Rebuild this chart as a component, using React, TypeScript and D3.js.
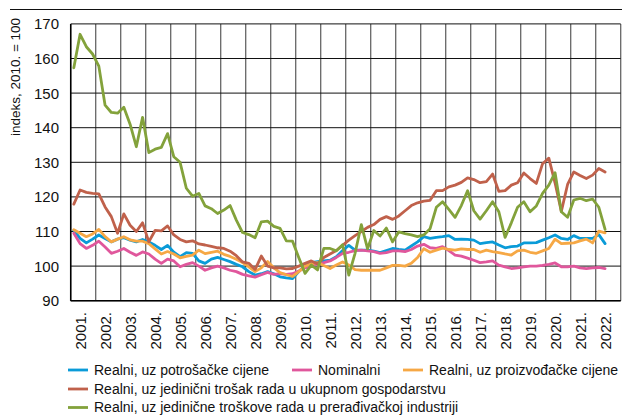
import React, { useRef, useEffect } from "react";
import * as d3 from "d3";

// tick labels
const years = [
  "2001.", "2002.", "2003.", "2004.", "2005.", "2006.", "2007.", "2008.", "2009.", "2010.", "2011.",
  "2012.", "2013.", "2014.", "2015.", "2016.", "2017.", "2018.", "2019.", "2020.", "2021.", "2022.",
];
const yTicks = [90, 100, 110, 120, 130, 140, 150, 160, 170];

// quarterly values, 2001 Q1 - 2022 Q2
const potrosacke = [
  110.3, 108, 106.7, 107.8, 109, 108, 107, 107.8, 108.2, 107.5, 107, 107.7, 107, 106, 104.8, 106,
  104, 102.7, 103.9, 103.7, 101.5, 100.8, 102, 102.5, 101.9, 101.3, 100.5, 99.8, 98.4, 97.4, 97.8, 98.4,
  97.8, 96.9, 96.6, 96.4, 98.4, 100.3, 101, 101.3, 101.5, 101.7, 102.7, 104.5, 106, 104.6, 104.6, 104.6,
  104.3, 103.9, 104.5, 105.1, 104.8, 104.6, 105.8, 107, 108.5, 108, 108.3, 108.5, 108.8, 107.7, 107.8, 107.7,
  107.5, 106.5, 106.8, 107, 106.1, 105.3, 105.6, 105.8, 106.7, 106.7, 106.8, 107.5, 108.2, 109, 108, 107.7,
  108.8, 108, 108, 108, 109.1, 106.5,
];
const nominalni = [
  109.5, 106.5, 105.1, 106, 107.2, 105.5, 103.7, 104.3, 105.1, 104, 103.1, 104.1, 103.5, 102, 100.8, 102,
  101.5, 99.8, 100.5, 101, 100, 98.8, 99.5, 100, 99.5, 98.8, 98.4, 97.6, 97.2, 96.8, 97.5, 98.2,
  97.6, 97.8, 97.6, 97.8, 98.6, 99.5, 100, 100.8, 101, 101.5, 102.5, 103.7, 104, 104.5, 104.6, 104.4,
  104.2, 103.7, 103.9, 104.4, 104.4, 104.2, 104.8, 105.8, 106.3, 105.3, 105.1, 105.6, 104.5, 103.2, 102.9, 102.3,
  101.7, 101, 101.2, 101.5, 100.3, 99.8, 99.3, 99.5, 99.8, 100, 100, 100.2, 100.5, 100.9, 99.8, 99.8,
  100, 99.5, 99.3, 99.5, 99.6, 99.3,
];
const proizvodacke = [
  110.5, 109.5, 108.5, 109.3, 110.6, 108.5, 107, 107.8, 108.5, 107.6, 107.2, 107.2, 106.5, 105, 103.5, 104.2,
  103.5, 102.4, 102.8, 103.2, 104.6, 103.6, 104, 104.3, 103.4, 102.8, 102, 101, 99.8, 98.4, 99.5, 101.3,
  99.5, 98.1, 97.5, 97, 98.4, 100, 100.7, 101, 100.2, 99.3, 100.3, 101.2, 100.3, 99, 98.8, 98.8,
  98.8, 98.8, 99.5, 100.2, 100.2, 100, 100.8, 102.5, 105, 104, 104.6, 105.2, 104.8, 104.6, 105, 104.8,
  104.8, 104, 104.6, 104.2, 103.9, 103.5, 103.2, 104.4, 104.6, 104, 103.7, 104.4, 105.1, 107.8, 106.5, 106.6,
  106.7, 107.3, 107.8, 106.7, 110.1, 109.6,
];
const ulcUkupno = [
  117.9, 122, 121.3, 121, 120.9, 117.1, 114.3, 109.5, 115.1, 111.8, 110, 112.5, 107, 110.3, 110.2, 111.6,
  109, 107.7, 107, 107.3, 106.4, 106.1, 105.7, 105.3, 105.1, 104.3, 103, 101.2, 100.8, 99, 102.9, 100,
  99.5, 99.5, 99.2, 99.3, 100, 100.8, 101.5, 100.6, 102.5, 103.5, 104.5, 106, 107.5, 108.8, 110, 111.2,
  112, 113.5, 114.3, 113.5, 114.5, 116, 117.5, 118.3, 118.8, 119, 121.8, 121.8, 122.9, 123.4, 124.2, 125.5,
  125, 124.1, 124.4, 126.6, 121.6, 121.8, 123.4, 124.1, 126.9, 125.3, 123.9, 129.6, 131.2, 124, 115.8, 123.6,
  127.2, 126.2, 125.3, 126.3, 128.2, 127.2,
];
const ulcPreradivacka = [
  157.3, 167, 163.4, 161.3, 157.8, 146.5, 144.4, 144.2, 145.9, 141, 134.5, 143, 132.8, 133.8, 134.3, 138.3,
  131.6, 130, 122.5, 120.2, 121, 117.4, 116.6, 115.2, 116.2, 117.5, 113.3, 109.7, 109.1, 108.2, 112.8, 113,
  111.5, 110.9, 107.3, 107.2, 102.4, 97.9, 100.3, 98.9, 105.1, 105.1, 104.4, 106.2, 97.4, 103.7, 112, 105,
  110.3, 108.7, 111, 107, 109.9, 109.4, 109, 108.5, 109, 110.8, 117, 118.6, 116.4, 114.1, 117.5, 121.8,
  116, 113.6, 116, 118.6, 115.7, 108.3, 112.5, 117, 118.6, 115.7, 117.4, 121, 123.4, 127, 115.7, 114.1,
  119.1, 119.6, 118.9, 119.4, 117, 110.6,
];

const seriesNames = [
  "Realni, uz potrošačke cijene",
  "Nominalni",
  "Realni, uz proizvođačke cijene",
  "Realni, uz jedinični trošak rada u ukupnom gospodarstvu",
  "Realni, uz jedinične troškove rada u prerađivačkoj industriji",
];
const seriesData = [potrosacke, nominalni, proizvodacke, ulcUkupno, ulcPreradivacka];
const colors = ["#0a9bd8", "#e0579c", "#f6a845", "#c0614b", "#83a23b"];

const W = 622;
const H = 416;
const font = "'Liberation Sans', Arial, sans-serif";

const App: React.FC = () => {
  const svgRef = useRef<SVGSVGElement | null>(null);

  useEffect(() => {
    if (!svgRef.current) return;
    const svg = d3.select(svgRef.current);
    svg.selectAll("*").remove();

    const left = 70.7, right = 620.7, top = 23.9, bottom = 300.7;

    const x = d3.scaleLinear().domain([2001, 2023]).range([left, right]);
    const xBand = d3.scaleBand().domain(years).range([left, right]);
    const y = d3.scaleLinear().domain([90, 170]).range([bottom, top]);

    // top rule
    svg.append("line")
      .attr("x1", 10).attr("x2", W).attr("y1", 9.5).attr("y2", 9.5)
      .attr("stroke", "#111").attr("stroke-width", 1);

    // vertical grid (year boundaries)
    svg.selectAll(".vgrid").data(d3.range(2001, 2024)).enter().append("line")
      .attr("class", "vgrid")
      .attr("x1", (d) => x(d)).attr("x2", (d) => x(d))
      .attr("y1", top).attr("y2", bottom)
      .attr("stroke", "#666").attr("stroke-width", 1.3);

    // horizontal grid
    svg.selectAll(".hgrid").data(yTicks).enter().append("line")
      .attr("class", "hgrid")
      .attr("x1", left).attr("x2", right)
      .attr("y1", (d) => y(d)).attr("y2", (d) => y(d))
      .attr("stroke", "#111").attr("stroke-width", 1);

    // axes lines
    svg.append("line")
      .attr("x1", left).attr("x2", left).attr("y1", top).attr("y2", bottom)
      .attr("stroke", "#000").attr("stroke-width", 1.5);
    svg.append("line")
      .attr("x1", left).attr("x2", right).attr("y1", bottom).attr("y2", bottom)
      .attr("stroke", "#000").attr("stroke-width", 1.5);

    // y tick labels
    svg.selectAll(".ytl").data(yTicks).enter().append("text")
      .attr("class", "ytl")
      .attr("x", 59).attr("y", (d) => y(d)).attr("dy", "0.36em")
      .attr("text-anchor", "end")
      .attr("font-family", font).attr("font-size", 15).attr("fill", "#111")
      .text((d) => d);

    // y title
    svg.append("text")
      .attr("transform", `translate(15,77) rotate(-90)`)
      .attr("text-anchor", "middle").attr("dy", "0.35em")
      .attr("font-family", font).attr("font-size", 13.5).attr("fill", "#111")
      .text("indeks, 2010. = 100");

    // x tick labels
    svg.selectAll(".xtl").data(years).enter().append("text")
      .attr("class", "xtl")
      .attr("transform", (d) => `translate(${(xBand(d) as number) + xBand.bandwidth() / 2 - 2.7},312) rotate(-90)`)
      .attr("text-anchor", "end").attr("dy", "0.35em")
      .attr("font-family", font).attr("font-size", 15).attr("fill", "#111")
      .text((d) => d);

    // series lines
    const line = d3.line<number>()
      .x((_, i) => x(2001 + (i + 0.5) / 4))
      .y((d) => y(d))
      .curve(d3.curveLinear);

    seriesData.forEach((data, k) => {
      svg.append("path")
        .attr("d", line(data) as string)
        .attr("fill", "none")
        .attr("stroke", colors[k])
        .attr("stroke-width", 2.8)
        .attr("stroke-linejoin", "round")
        .attr("stroke-linecap", "round");
    });

    // legend
    const legendPos = [
      { lx: 68, ly: 370 },
      { lx: 292, ly: 370 },
      { lx: 403, ly: 370 },
      { lx: 68, ly: 389 },
      { lx: 68, ly: 407.5 },
    ];
    seriesNames.forEach((name, k) => {
      const p = legendPos[k];
      svg.append("line")
        .attr("x1", p.lx).attr("x2", p.lx + 20)
        .attr("y1", p.ly).attr("y2", p.ly)
        .attr("stroke", colors[k]).attr("stroke-width", 2.8);
      svg.append("text")
        .attr("x", p.lx + 26).attr("y", p.ly).attr("dy", "0.35em")
        .attr("font-family", font).attr("font-size", 14).attr("fill", "#111")
        .text(name);
    });
  }, []);

  return (
    <svg
      ref={svgRef}
      width={W}
      height={H}
      style={{ position: "absolute", left: 0, top: 0, background: "#fff", display: "block" }}
    />
  );
};

export default App;
